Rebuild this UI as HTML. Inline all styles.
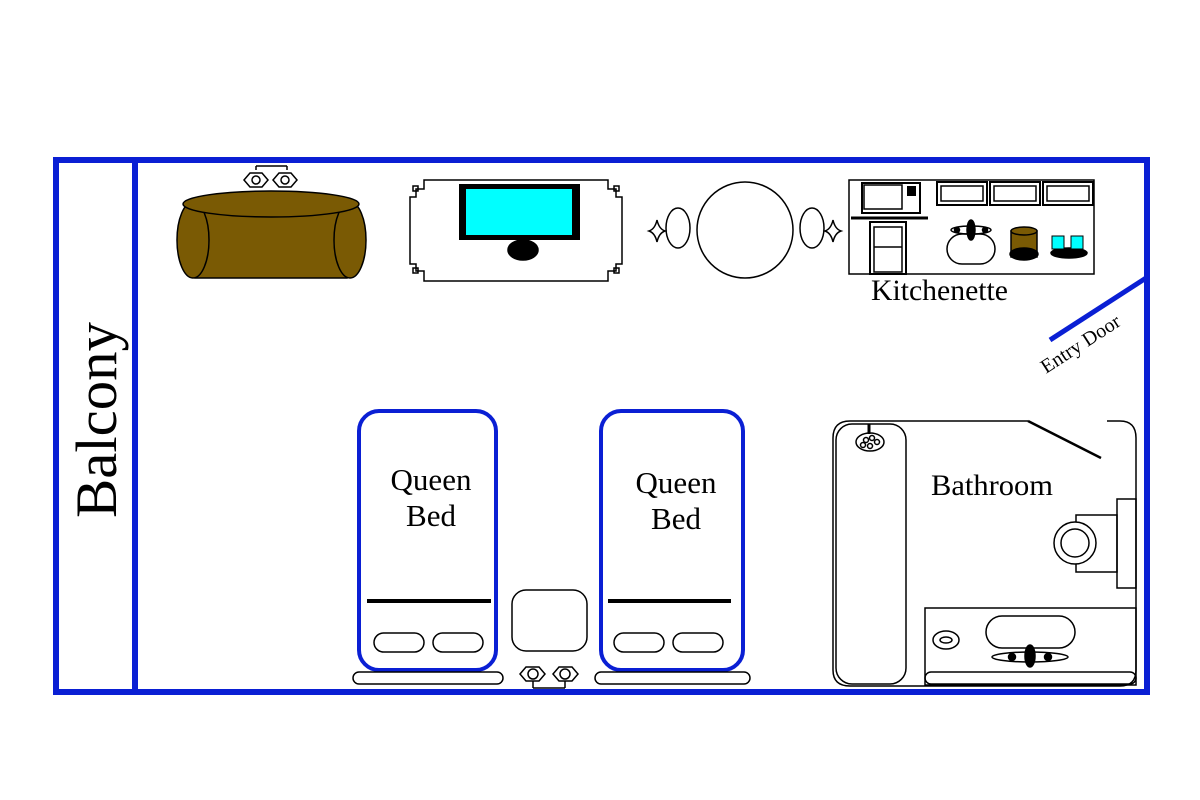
<!DOCTYPE html>
<html><head><meta charset="utf-8"><style>
html,body{margin:0;padding:0;background:#fff;width:1200px;height:800px;overflow:hidden}
svg{display:block}
text{font-family:"Liberation Serif",serif;fill:#000}
</style></head><body>
<svg width="1200" height="800" viewBox="0 0 1200 800" xmlns="http://www.w3.org/2000/svg">
<g fill="none" stroke="#000" stroke-width="1.5">
<rect x="56" y="160" width="1091" height="532" stroke="#0a1fd4" stroke-width="6"/>
<line x1="135" y1="160" x2="135" y2="692" stroke="#0a1fd4" stroke-width="6"/>
<line x1="1050" y1="340" x2="1146" y2="278" stroke="#0a1fd4" stroke-width="5"/>

<line x1="256" y1="166" x2="256" y2="170"/><line x1="287" y1="166" x2="287" y2="170"/><line x1="256" y1="166" x2="287" y2="166"/>
<polygon points="244,180 250,173 262,173 268,180 262,187 250,187"/><circle cx="256" cy="180" r="4"/>
<polygon points="273,180 279,173 291,173 297,180 291,187 279,187"/><circle cx="285" cy="180" r="4"/>

<rect x="195" y="205" width="152" height="73" fill="#7a5a04"/>
<ellipse cx="193" cy="240" rx="16" ry="38" fill="#7a5a04"/>
<ellipse cx="350" cy="240" rx="16" ry="38" fill="#7a5a04"/>
<ellipse cx="271" cy="204" rx="88" ry="13" fill="#7a5a04"/>

<path d="M424,180 H608 V189 H616 V197 H622 V264 H616 V271 H608 V281 H424 V271 H416 V264 H410 V197 H416 V189 H424 Z"/>
<rect x="413" y="186" width="5" height="5"/><rect x="614" y="186" width="5" height="5"/>
<rect x="413" y="268" width="5" height="5"/><rect x="614" y="268" width="5" height="5"/>
<rect x="459" y="184" width="121" height="56" fill="#000" stroke="none"/>
<rect x="466" y="189" width="106" height="46" fill="#00ffff" stroke="none"/>
<ellipse cx="523" cy="250" rx="15" ry="10" fill="#000"/>

<circle cx="745" cy="230" r="48"/>
<ellipse cx="678" cy="228" rx="12" ry="20"/>
<ellipse cx="812" cy="228" rx="12" ry="20"/>
<path d="M657,220 Q659,229 665,231 Q659,233 657,242 Q655,233 649,231 Q655,229 657,220 Z"/>
<path d="M833,220 Q835,229 841,231 Q835,233 833,242 Q831,233 825,231 Q831,229 833,220 Z"/>

<rect x="849" y="180" width="245" height="94"/>
<rect x="862" y="183" width="58" height="30" stroke-width="2"/>
<rect x="864" y="185" width="38" height="24"/>
<rect x="907" y="186" width="9" height="10" fill="#000" stroke="none"/>
<line x1="851" y1="218" x2="928" y2="218" stroke-width="3"/>
<rect x="870" y="222" width="36" height="52" stroke-width="2"/>
<rect x="874" y="227" width="28" height="45"/><line x1="874" y1="247" x2="902" y2="247"/>
<rect x="937" y="182" width="50" height="23" stroke-width="2"/><rect x="941" y="186" width="42" height="15"/>
<rect x="990" y="182" width="50" height="23" stroke-width="2"/><rect x="994" y="186" width="42" height="15"/>
<rect x="1043" y="182" width="50" height="23" stroke-width="2"/><rect x="1047" y="186" width="42" height="15"/>
<rect x="947" y="234" width="48" height="30" rx="15"/>
<ellipse cx="971" cy="230" rx="20" ry="4"/>
<ellipse cx="971" cy="230" rx="4" ry="10" fill="#000"/>
<circle cx="957" cy="230" r="2.5" fill="#000"/><circle cx="985" cy="230" r="2.5" fill="#000"/>
<rect x="1011" y="231" width="26" height="26" fill="#7a5a04"/>
<ellipse cx="1024" cy="231" rx="13" ry="4" fill="#7a5a04"/>
<ellipse cx="1024" cy="254" rx="14" ry="6" fill="#000"/>
<ellipse cx="1069" cy="253" rx="18" ry="5" fill="#000"/>
<rect x="1052" y="236" width="12" height="13" fill="#00ffff" stroke-width="1"/>
<rect x="1071" y="236" width="12" height="13" fill="#00ffff" stroke-width="1"/>

<rect x="359" y="411" width="137" height="259" rx="20" stroke="#0a1fd4" stroke-width="4"/>
<line x1="367" y1="601" x2="491" y2="601" stroke-width="4"/>
<rect x="374" y="633" width="50" height="19" rx="9.5"/><rect x="433" y="633" width="50" height="19" rx="9.5"/>
<rect x="353" y="672" width="150" height="12" rx="6"/>
<rect x="601" y="411" width="142" height="259" rx="20" stroke="#0a1fd4" stroke-width="4"/>
<line x1="608" y1="601" x2="731" y2="601" stroke-width="4"/>
<rect x="614" y="633" width="50" height="19" rx="9.5"/><rect x="673" y="633" width="50" height="19" rx="9.5"/>
<rect x="595" y="672" width="155" height="12" rx="6"/>
<rect x="512" y="590" width="75" height="61" rx="14"/>
<polygon points="520,674 526,667 539,667 545,674 539,681 526,681"/><circle cx="533" cy="674" r="5"/>
<polygon points="553,674 559,667 572,667 578,674 572,681 559,681"/><circle cx="565" cy="674" r="5"/>
<line x1="533" y1="681" x2="533" y2="688"/><line x1="565" y1="681" x2="565" y2="688"/><line x1="533" y1="688" x2="565" y2="688"/>

<path d="M1028,421 H850 Q833,421 833,438 V670 Q833,686 850,686 H1120 Q1136,686 1136,670 V438 Q1136,421 1120,421 H1107"/>
<line x1="1028" y1="421" x2="1101" y2="458" stroke-width="2.5"/>
<rect x="836" y="424" width="70" height="260" rx="16"/>
<line x1="869" y1="424" x2="869" y2="434" stroke-width="3"/>
<ellipse cx="870" cy="442" rx="14" ry="9"/>
<circle cx="866" cy="440" r="2.5"/><circle cx="872" cy="438" r="2.5"/><circle cx="877" cy="442" r="2.5"/><circle cx="863" cy="445" r="2.5"/><circle cx="870" cy="446" r="2.5"/>
<rect x="1117" y="499" width="19" height="89"/>
<rect x="1076" y="515" width="41" height="57"/>
<circle cx="1075" cy="543" r="21" fill="#fff"/><circle cx="1075" cy="543" r="14"/>
<rect x="925" y="608" width="211" height="77"/>
<rect x="925" y="672" width="211" height="12" rx="6"/>
<rect x="986" y="616" width="89" height="32" rx="16"/>
<ellipse cx="1030" cy="657" rx="38" ry="5"/>
<ellipse cx="1030" cy="656" rx="5" ry="11" fill="#000"/>
<circle cx="1012" cy="657" r="3.5" fill="#000"/><circle cx="1048" cy="657" r="3.5" fill="#000"/>
<ellipse cx="946" cy="640" rx="13" ry="9"/><ellipse cx="946" cy="640" rx="6" ry="3"/>
</g>

<text x="0" y="0" font-size="58" transform="translate(116,518) rotate(-90)" textLength="196" lengthAdjust="spacingAndGlyphs">Balcony</text>
<text x="871" y="300" font-size="30" textLength="137" lengthAdjust="spacingAndGlyphs">Kitchenette</text>
<text x="0" y="0" font-size="20" transform="translate(1046,374) rotate(-33)">Entry Door</text>
<text x="431" y="490" font-size="31" text-anchor="middle">Queen</text>
<text x="431" y="526" font-size="31" text-anchor="middle">Bed</text>
<text x="676" y="493" font-size="31" text-anchor="middle">Queen</text>
<text x="676" y="529" font-size="31" text-anchor="middle">Bed</text>
<text x="931" y="495" font-size="30" textLength="122" lengthAdjust="spacingAndGlyphs">Bathroom</text>
</svg>
</body></html>
